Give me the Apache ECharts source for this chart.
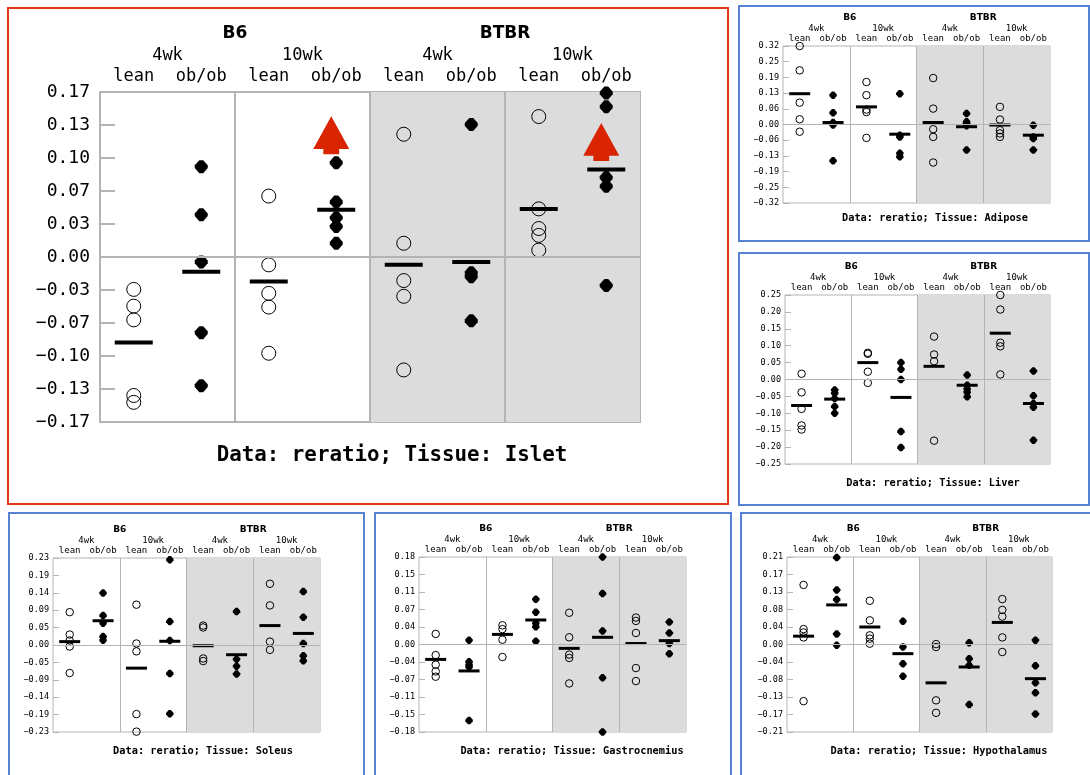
<!DOCTYPE html>
<html>
<head>
<meta charset="utf-8">
<script src="https://cdn.jsdelivr.net/npm/echarts@6/dist/echarts.min.js"></script>
<style>
  html, body { margin: 0; padding: 0; background: #fff; }
  #main { width: 1090px; height: 775px; }
</style>
</head>
<body>
<div id="main"></div>
<script>
// categories
var strains = ['B6', 'BTBR'];
var weeks = ['4wk', '10wk', '4wk', '10wk'];
var genotypes = ['lean', 'ob/ob'];

// groups: B6 4wk, B6 10wk, BTBR 4wk, BTBR 10wk
var isletMax = 0.168;
var isletLean = [[-0.033, -0.05, -0.064, -0.141, -0.148], [0.062, -0.008, -0.037, -0.051, -0.098], [0.125, 0.014, -0.024, -0.04, -0.115], [0.143, 0.049, 0.029, 0.022, 0.007]];
var isletObob = [[0.092, 0.043, -0.005, -0.077, -0.131], [0.096, 0.056, 0.04, 0.031, 0.014], [0.135, -0.016, -0.02, -0.065], [0.167, 0.153, 0.081, 0.072, -0.029]];
var isletMean = [-0.087, -0.015, -0.025, 0.048, -0.008, -0.005, 0.049, 0.089];
var isletArrows = [[3, 0.124], [7, 0.117]];

var adiposeMax = 0.316;
var adiposeLean = [[0.316, 0.218, 0.088, 0.021, -0.029], [0.171, 0.118, 0.06, 0.05, -0.054], [0.187, 0.064, -0.019, -0.05, -0.153], [0.071, 0.02, -0.023, -0.036, -0.05]];
var adiposeObob = [[0.118, 0.047, 0.008, -0.002, -0.146], [0.124, -0.043, -0.05, -0.116, -0.13], [0.044, 0.011, 0.002, -0.005, -0.103], [-0.003, -0.05, -0.056, -0.103]];
var adiposeMean = [0.124, 0.008, 0.071, -0.039, 0.008, -0.009, -0.002, -0.043];

var liverMax = 0.25;
var liverLean = [[0.017, -0.038, -0.087, -0.136, -0.148], [0.079, 0.076, 0.023, -0.01], [0.127, 0.074, 0.054, -0.181], [0.25, 0.207, 0.109, 0.098, 0.015]];
var liverObob = [[-0.031, -0.041, -0.056, -0.08, -0.1], [0.05, 0.03, 0.0, -0.154, -0.201], [0.013, -0.017, -0.028, -0.038, -0.051], [0.025, -0.048, -0.071, -0.082, -0.18]];
var liverMean = [-0.077, -0.058, 0.05, -0.053, 0.039, -0.017, 0.137, -0.071];

var soleusMax = 0.233;
var soleusLean = [[0.088, 0.028, 0.012, -0.004, -0.075], [0.108, 0.004, -0.017, -0.185, -0.232], [0.052, 0.047, -0.036, -0.043], [0.164, 0.106, 0.009, -0.013]];
var soleusObob = [[0.139, 0.079, 0.058, 0.023, 0.013], [0.228, 0.063, 0.012, -0.076, -0.184], [0.09, -0.038, -0.057, -0.078], [0.143, 0.074, 0.004, -0.029, -0.042]];
var soleusMean = [0.009, 0.065, -0.062, 0.01, -0.002, -0.026, 0.052, 0.031];

var gastroMax = 0.182;
var gastroLean = [[0.022, -0.022, -0.042, -0.056, -0.067], [0.04, 0.032, 0.01, -0.026], [0.066, 0.015, -0.021, -0.028, -0.081], [0.056, 0.049, 0.024, -0.049, -0.076]];
var gastroObob = [[0.009, -0.036, -0.042, -0.047, -0.158], [0.094, 0.067, 0.044, 0.037, 0.007], [0.182, 0.106, 0.028, -0.069, -0.182], [0.047, 0.024, 0.002, -0.019]];
var gastroMean = [-0.031, -0.055, 0.021, 0.051, -0.008, 0.015, 0.002, 0.008];

var hypoMax = 0.21;
var hypoLean = [[0.143, 0.037, 0.029, 0.017, -0.136], [0.105, 0.058, 0.022, 0.014, 0.002], [0.001, -0.006, -0.134, -0.164], [0.109, 0.083, 0.067, 0.017, -0.018]];
var hypoObob = [[0.209, 0.131, 0.108, 0.025, -0.002], [0.056, -0.006, -0.046, -0.076], [0.004, -0.034, -0.05, -0.144], [0.01, -0.051, -0.092, -0.116, -0.167]];
var hypoMean = [0.02, 0.095, 0.042, -0.022, -0.092, -0.054, 0.053, -0.082];

var slots = [];
weeks.forEach(function () {
    genotypes.forEach(function (g) { slots.push(g); });
});

var mono = 'DejaVu Sans Mono';
var big = {lab: 17, yLab: 18, strain: 17, title: 20.8, mLean: 7, mWeek: 28, mStrain: 50, yMargin: 10,
    tick: 15, line: 2, circle: 14, dot: 13, bar: [38, 4]};
var small = {lab: 9, yLab: 8.5, strain: 9, title: 10.3, mLean: 3, mWeek: 13, mStrain: 24, yMargin: 4,
    tick: 6, line: 1, circle: 7.5, dot: 7.5, bar: [21, 3]};

var panels = [
    {tissue: 'Islet', max: isletMax, lean: isletLean, obob: isletObob, mean: isletMean, arrows: isletArrows, s: big,
        grid: {left: 100, top: 92, width: 540, height: 330}, frame: [8, 8, 720, 496], color: '#e8381c', title: [387, 440]},
    {tissue: 'Adipose', max: adiposeMax, lean: adiposeLean, obob: adiposeObob, mean: adiposeMean, s: small,
        grid: {left: 783, top: 46, width: 267, height: 157}, frame: [739, 6, 350, 235], color: '#5582d2', title: [930, 208]},
    {tissue: 'Liver', max: liverMax, lean: liverLean, obob: liverObob, mean: liverMean, s: small,
        grid: {left: 785, top: 295, width: 265, height: 169}, frame: [739, 253, 350, 252], color: '#5582d2', title: [928, 473]},
    {tissue: 'Soleus', max: soleusMax, lean: soleusLean, obob: soleusObob, mean: soleusMean, s: small,
        grid: {left: 53, top: 558, width: 267, height: 174}, frame: [9, 513, 355, 270], color: '#5582d2', title: [198, 741]},
    {tissue: 'Gastrocnemius', max: gastroMax, lean: gastroLean, obob: gastroObob, mean: gastroMean, s: small,
        grid: {left: 419, top: 557, width: 267, height: 175}, frame: [375, 513, 356, 270], color: '#5582d2', title: [567, 741]},
    {tissue: 'Hypothalamus', max: hypoMax, lean: hypoLean, obob: hypoObob, mean: hypoMean, s: small,
        grid: {left: 787, top: 557, width: 265, height: 175}, frame: [741, 513, 360, 270], color: '#5582d2', title: [934, 741]}
];

var dotPath = 'path://M35,0 L65,0 L100,40 L100,60 L65,100 L35,100 L0,60 L0,40 Z';
var arrowPath = 'path://M50,0 L100,86 L72,86 L72,100 L28,100 L28,86 L0,86 Z';

function fmt(v) {
    if (Math.abs(v) < 1e-9) v = 0;
    return v.toFixed(2).replace('-', '\u2212');
}

var option = {animation: false, title: [], grid: [], xAxis: [], yAxis: [], series: [], graphic: []};

panels.forEach(function (p, i) {
    var s = p.s;
    var gridColor = '#b4b4b4';
    option.grid.push({left: p.grid.left, top: p.grid.top, width: p.grid.width, height: p.grid.height,
        show: true, borderColor: gridColor, borderWidth: s.line, backgroundColor: 'transparent'});
    option.title.push({text: 'Data: reratio; Tissue: ' + p.tissue, left: p.title[0], top: p.title[1], textAlign: 'center',
        textStyle: {fontFamily: mono, fontWeight: 'bold', fontSize: s.title, color: '#000'}});
    option.graphic.push({type: 'rect', shape: {x: p.frame[0], y: p.frame[1], width: p.frame[2], height: p.frame[3]},
        style: {fill: 'none', stroke: p.color, lineWidth: 2}, silent: true});

    var hidden = {show: false};
    option.xAxis.push({type: 'category', gridIndex: i, position: 'top', data: slots,
        axisLine: hidden, axisTick: hidden, splitLine: hidden,
        axisLabel: {interval: 0, fontFamily: mono, fontSize: s.lab, lineHeight: s.lab, color: '#000', margin: s.mLean}});
    option.xAxis.push({type: 'category', gridIndex: i, position: 'top', data: weeks,
        axisLine: hidden, axisTick: hidden, splitLine: hidden,
        axisLabel: {interval: 0, fontFamily: mono, fontSize: s.lab, lineHeight: s.lab, color: '#000', margin: s.mWeek}});
    option.xAxis.push({type: 'category', gridIndex: i, position: 'top', data: strains,
        axisLine: hidden, axisTick: hidden, splitLine: hidden,
        axisLabel: {interval: 0, fontFamily: 'DejaVu Sans', fontWeight: 'bold', fontSize: s.strain, lineHeight: s.strain,
            color: '#000', margin: s.mStrain}});
    option.xAxis.push({type: 'value', gridIndex: i, min: 0, max: slots.length, show: false});

    option.yAxis.push({type: 'value', gridIndex: i, min: -p.max, max: p.max, interval: p.max / 5,
        axisLine: hidden, splitLine: hidden,
        axisTick: {show: true, inside: true, length: s.tick, lineStyle: {color: gridColor, width: s.line}},
        axisLabel: {formatter: fmt, fontFamily: mono, fontSize: s.yLab, color: '#000', margin: s.yMargin}});

    var xi = i * 4;
    var leanData = [], obobData = [];
    p.lean.forEach(function (grp, g) {
        grp.forEach(function (v) { leanData.push([2 * g, v]); });
    });
    p.obob.forEach(function (grp, g) {
        grp.forEach(function (v) { obobData.push([2 * g + 1, v]); });
    });

    // shading + dividers + zero line
    option.series.push({type: 'scatter', xAxisIndex: xi + 3, yAxisIndex: i, data: [], z: 1, silent: true,
        markArea: {silent: true, itemStyle: {color: '#dcdcdc'}, data: [[{xAxis: 4}, {xAxis: 8}]]},
        markLine: {silent: true, symbol: ['none', 'none'], label: {show: false},
            lineStyle: {type: 'solid', color: gridColor, width: s.line},
            data: [{xAxis: 2}, {xAxis: 4}, {xAxis: 6}, {yAxis: 0}]}});
    option.series.push({type: 'scatter', xAxisIndex: xi, yAxisIndex: i, data: leanData, z: 3,
        symbol: 'circle', symbolSize: s.circle,
        itemStyle: {color: 'rgba(0,0,0,0)', borderColor: '#000', borderWidth: 1, opacity: 1}});
    option.series.push({type: 'scatter', xAxisIndex: xi, yAxisIndex: i, data: obobData, z: 3,
        symbol: dotPath, symbolSize: s.dot, itemStyle: {color: '#000', opacity: 1}});
    option.series.push({type: 'scatter', xAxisIndex: xi, yAxisIndex: i, z: 4,
        data: p.mean.map(function (v, k) { return [k, v]; }),
        symbol: 'rect', symbolSize: s.bar, itemStyle: {color: '#000', opacity: 1}});
    if (p.arrows) {
        option.series.push({type: 'scatter', xAxisIndex: xi, yAxisIndex: i, data: p.arrows, z: 5,
            symbol: arrowPath, symbolSize: [36, 38], symbolOffset: [-5, 0], itemStyle: {color: '#d82400', opacity: 1}});
    }
});

var chart = echarts.init(document.getElementById('main'));
chart.setOption(option);
</script>
</body>
</html>
